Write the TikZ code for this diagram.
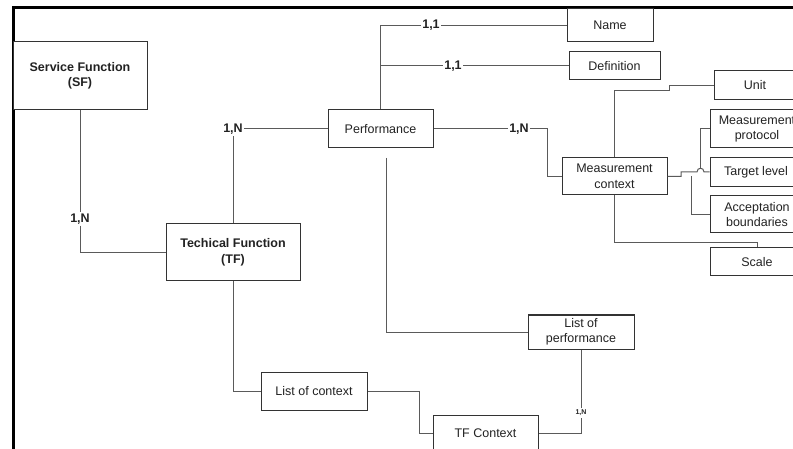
\documentclass[tikz,border=0pt]{standalone}
\usepackage{fontspec}
\setmainfont{Liberation Sans}
\definecolor{boxc}{HTML}{333333}
\definecolor{linec}{HTML}{5A5A5A}
\definecolor{txt}{HTML}{222222}
\tikzset{
  box/.style={draw=boxc, line width=1pt, fill=white, inner sep=0pt, align=center,
    font=\fontsize{12.5}{15.5}\selectfont, text=txt},
  boldbox/.style={box, font=\bfseries\fontsize{12.5}{15.5}\selectfont},
  lab/.style={font=\bfseries\fontsize{12.5}{15}\selectfont, inner sep=1.2pt, text=txt},
  smalllab/.style={font=\bfseries\fontsize{7}{8}\selectfont, inner sep=1.5pt, text=txt},
  conn/.style={draw=linec, line width=1pt}
}
\begin{document}
\begin{tikzpicture}[x=1pt,y=-1pt]
\useasboundingbox (0,0) rectangle (793,449);
\clip (0,0) rectangle (793,449);
% frame
\draw[line width=2.6pt, black] (13.5,452) -- (13.5,7.5) -- (796,7.5);
% boxes
\node[boldbox, minimum width=134pt, minimum height=68pt] (SF) at (80,76) {Service Function\\(SF)};
\node[boldbox, minimum width=134pt, minimum height=57pt] (TF) at (233,252.5) {Techical Function\\(TF)};
\node[box, minimum width=105pt, minimum height=38pt] (Perf) at (380.5,129) {Performance};
\node[box, minimum width=86pt, minimum height=33pt] (Name) at (610,25.5) {Name};
\node[box, minimum width=91pt, minimum height=28pt] (Def) at (614.5,66) {Definition};
\node[box, minimum width=105pt, minimum height=37pt] (MC) at (614.5,176.5) {Measurement\\context};
\node[box, minimum width=82pt, minimum height=29pt] (Unit) at (755,85.5) {Unit};
\node[box, minimum width=94pt, minimum height=38pt] (MP) at (757,129) {Measurement\\protocol};
\node[box, minimum width=92pt, minimum height=29pt] (TL) at (756,172) {Target level};
\node[box, minimum width=94pt, minimum height=37pt] (AB) at (757,214.5) {Acceptation\\boundaries};
\node[box, minimum width=94pt, minimum height=28pt] (Scale) at (757,262) {Scale};
\node[box, minimum width=106pt, minimum height=34pt] (LoP) at (581,332) {List of\\performance};
\node[box, minimum width=106pt, minimum height=38pt] (LoC) at (314,391) {List of context};
\node[box, minimum width=105pt, minimum height=36pt] (TFC) at (485.5,433) {TF Context};
% labels
\node[lab] (l1) at (80,219) {1,N};
\node[lab] (l2) at (233,129) {1,N};
\node[lab] (l3) at (431,25.5) {1,1};
\node[lab] (l4) at (453,66) {1,1};
\node[lab] (l5) at (519,129) {1,N};
\node[smalllab] (l6) at (581,413) {1,N};
% helper coordinates
\coordinate (k1) at (547,129);
\coordinate (u1) at (669,91);
\coordinate (s1) at (757,243);
\coordinate (h1) at (681,172);
\coordinate (h2) at (697,172);
\coordinate (h3) at (704,172);
\coordinate (p1) at (700.5,168.5);
\coordinate (a1) at (691,176.5);
\coordinate (c1) at (419,391);
\coordinate (q1) at (386,158);
% connectors
\draw[conn] (SF.south) -- (l1.north);
\draw[conn] (l1.south) |- (TF.west);
\draw[conn] (TF.north) -- (l2.south);
\draw[conn] (l2.east) -- (l2.east -| Perf.west);
\draw[conn] (Perf.north) |- (l3.west);
\draw[conn] (l3.east) -- (l3.east -| Name.west);
\draw[conn] (l4.west) -- (l4.west -| Perf.north);
\draw[conn] (l4.east) -- (l4.east -| Def.west);
\draw[conn] (Perf.east) -- (l5.west);
\draw[conn] (l5.east) -- (k1) |- (MC.west);
\draw[conn] (MC.north) |- (u1) |- (Unit.west);
\draw[conn] (MC.south) |- (s1) -- (Scale.north);
\draw[conn] (MC.east) -| (h1) -- (h2) .. controls (697,167) and (704,167) .. (h3) -- (TL.west);
\draw[conn] (MP.west) -| (p1);
\draw[conn] (a1) |- (AB.west);
\draw[conn] (TF.south) |- (LoC.west);
\draw[conn] (LoC.east) -- (c1) |- (TFC.west);
\draw[conn] (TFC.east) -| (l6.south);
\draw[conn] (l6.north) -- (LoP.south);
\draw[conn] (q1) |- (LoP.west);
\end{tikzpicture}
\end{document}
